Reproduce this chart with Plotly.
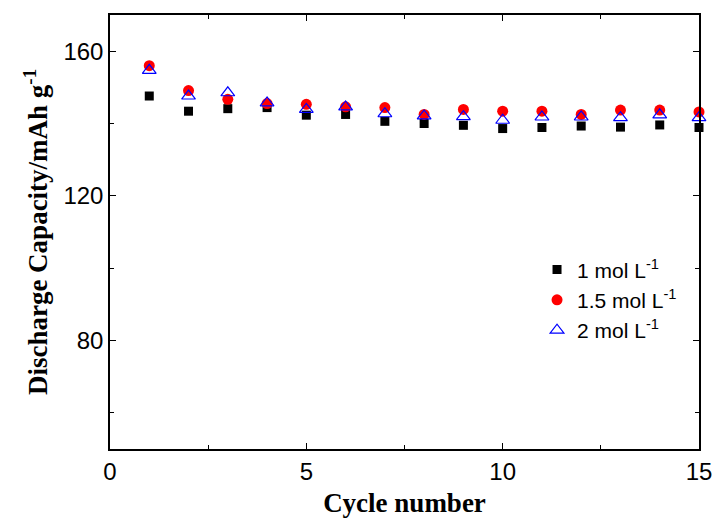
import plotly.graph_objects as go

cycles = list(range(1, 16))
cap_1M = [147.6, 143.4, 144.1, 144.4, 142.3, 142.5, 140.6, 140.0, 139.5, 138.6, 138.9, 139.3, 139.0, 139.6, 138.9]
cap_15M = [156.0, 149.1, 146.7, 145.5, 145.3, 144.6, 144.4, 142.5, 143.9, 143.4, 143.4, 142.5, 143.7, 143.7, 143.2]
cap_2M = [154.7, 147.6, 148.5, 145.7, 143.9, 144.6, 142.7, 142.1, 141.9, 140.9, 141.8, 141.8, 141.6, 142.4, 141.6]
labels = ["1 mol L<sup>-1</sup>", "1.5 mol L<sup>-1</sup>", "2 mol L<sup>-1</sup>"]

fig = go.Figure()
fig.add_trace(go.Scatter(x=cycles, y=cap_1M, mode="markers", name=labels[0],
                         marker=dict(symbol="square", size=9, color="black"), cliponaxis=False))
fig.add_trace(go.Scatter(x=cycles, y=cap_15M, mode="markers", name=labels[1],
                         marker=dict(symbol="circle", size=11, color="red"), cliponaxis=False))
fig.add_trace(go.Scatter(x=cycles, y=cap_2M, mode="markers", name=labels[2],
                         marker=dict(symbol="triangle-up-open", size=12, color="blue", line=dict(width=1.2)),
                         cliponaxis=False))

axis_common = dict(showline=True, linecolor="black", linewidth=1.5, mirror="allticks",
                   ticks="inside", ticklen=6, tickwidth=1.2, tickcolor="black",
                   showgrid=False, zeroline=False,
                   tickfont=dict(family="Liberation Sans, Arial", size=24, color="black"))

fig.update_xaxes(range=[0, 15], tick0=0, dtick=5,
                 minor=dict(ticks="inside", ticklen=4, dtick=2.5, tickcolor="black", tickwidth=1.2),
                 title=dict(text="<b>Cycle number</b>", standoff=10,
                            font=dict(family="Liberation Serif, Times New Roman", size=27, color="black")),
                 **axis_common)
fig.update_yaxes(range=[50, 170], tick0=0, dtick=40,
                 minor=dict(ticks="inside", ticklen=4, dtick=20, tickcolor="black", tickwidth=1.2),
                 title=dict(text="<b>Discharge Capacity/mAh g<sup>-1</sup></b>", standoff=8,
                            font=dict(family="Liberation Serif, Times New Roman", size=27, color="black")),
                 **axis_common)

fig.update_layout(
    width=724, height=525,
    margin=dict(l=110, r=21, t=15, b=73),
    plot_bgcolor="white", paper_bgcolor="white",
    showlegend=True,
    legend=dict(x=0.725, y=0.46, xanchor="left", yanchor="top",
                font=dict(family="Liberation Sans, Arial", size=21, color="black"),
                bgcolor="rgba(0,0,0,0)", tracegroupgap=0),
)

fig.write_html("out.html")
